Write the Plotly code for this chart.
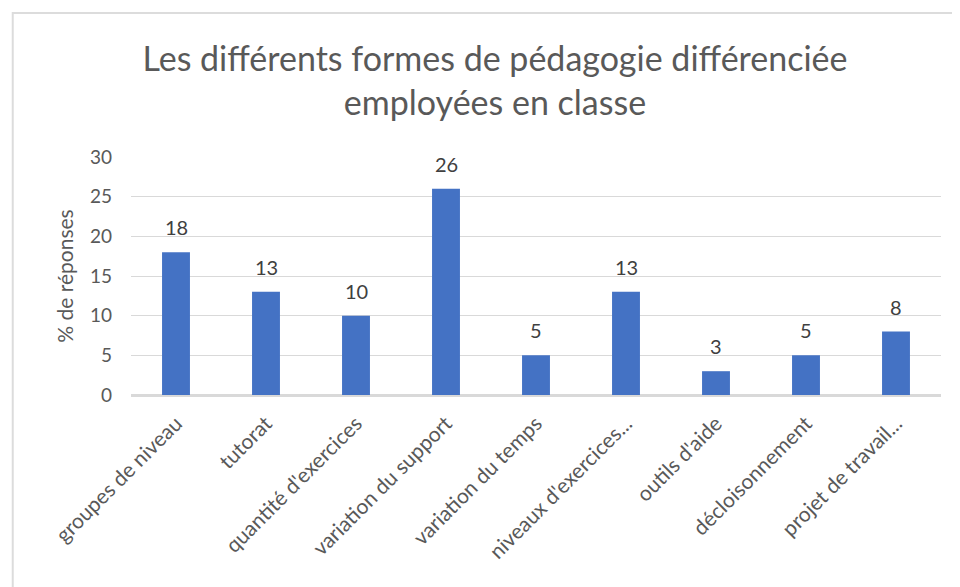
import plotly.graph_objects as go

# catégories et pourcentages de réponses
categories = ["groupes de niveau", "tutorat", "quantité d'exercices", "variation du support",
              "variation du temps", "niveaux d'exercices...", "outils d'aide",
              "décloisonnement", "projet de travail..."]
pourcentages = [18, 13, 10, 26, 5, 13, 3, 5, 8]
y_ticks = [0, 5, 10, 15, 20, 25, 30]

titre = "Les différents formes de pédagogie différenciée<br>employées en classe"

# la page ajoute 8px de marge (body), on réduit la figure d'autant
W, H = 952, 579

fig = go.Figure()
fig.add_trace(go.Bar(
    x=categories, y=pourcentages,
    marker=dict(color="#4472C4", line=dict(width=0)),
))

# étiquettes de valeurs au-dessus des barres
for cat, val in zip(categories, pourcentages):
    fig.add_annotation(x=cat, y=val, text=str(val), showarrow=False,
                       yanchor="bottom", yshift=11,
                       font=dict(size=20, color="#404040", family="Lato"))

fig.update_layout(
    width=W, height=H,
    margin=dict(l=123, r=19, t=149, b=192),
    paper_bgcolor="white", plot_bgcolor="white",
    font=dict(family="Lato", color="#595959"),
    title=dict(text=titre, x=487 / W, xref="container", xanchor="center",
               y=1 - 63 / H, yref="container", yanchor="middle",
               font=dict(size=34, color="#595959", family="Lato")),
    bargap=0.69,
    showlegend=False,
)
fig.update_yaxes(range=[0, 30], tickvals=y_ticks, showgrid=True, gridcolor="#d9d9d9",
                 zeroline=True, zerolinecolor="#d9d9d9", showline=False,
                 tickfont=dict(size=19, color="#595959"), ticks="", ticklen=0,
                 ticklabelstandoff=18,
                 title=dict(text="% de réponses", font=dict(size=21, color="#595959"), standoff=10))
fig.update_xaxes(tickangle=-45, tickfont=dict(size=21, color="#595959"), showline=True,
                 linecolor="#d9d9d9", linewidth=2, ticks="", ticklabelstandoff=6)

# cadre gris autour du graphique
fig.add_shape(type="rect", xref="paper", yref="paper", x0=-0.146, x1=1.05, y0=-0.9, y1=1.605,
              line=dict(color="#dcdcdc", width=2), fillcolor="rgba(0,0,0,0)", layer="below")

fig.write_html("out.html")
